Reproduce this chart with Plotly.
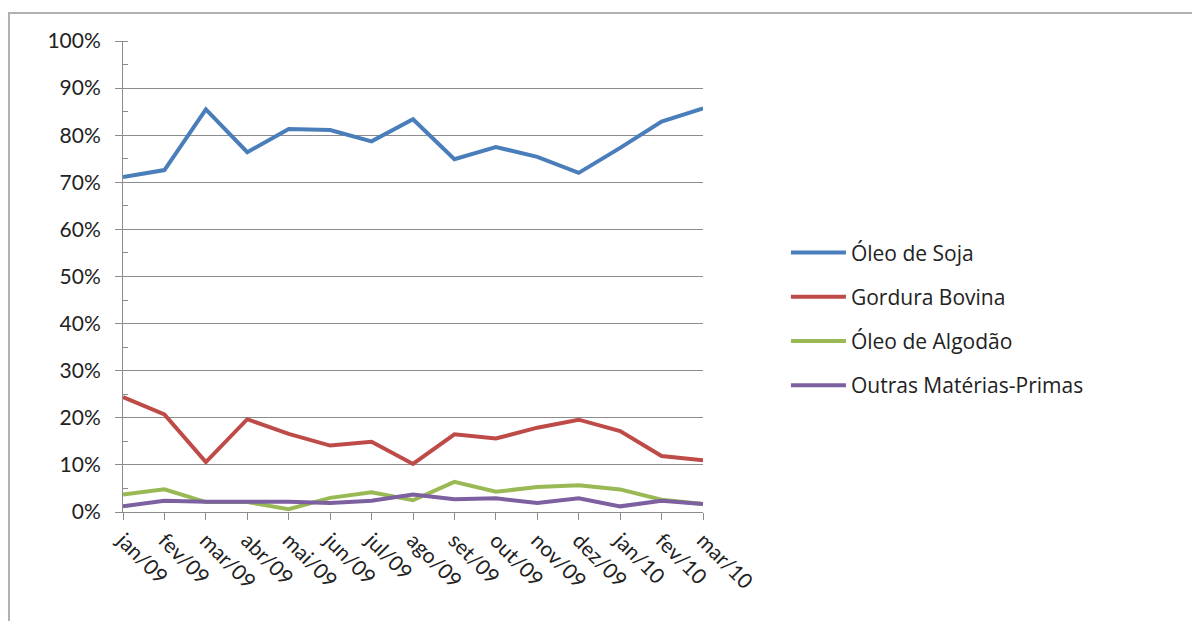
import plotly.graph_objects as go

months = ["jan/09", "fev/09", "mar/09", "abr/09", "mai/09", "jun/09", "jul/09", "ago/09",
          "set/09", "out/09", "nov/09", "dez/09", "jan/10", "fev/10", "mar/10"]

oleo_soja = [71.1, 72.6, 85.5, 76.4, 81.3, 81.1, 78.7, 83.4, 74.9, 77.5, 75.4, 72.0, 77.3, 82.9, 85.7]
gordura_bovina = [24.4, 20.7, 10.6, 19.7, 16.6, 14.1, 14.9, 10.2, 16.5, 15.6, 17.9, 19.6, 17.2, 11.9, 11.0]
oleo_algodao = [3.7, 4.8, 2.1, 2.1, 0.6, 3.0, 4.2, 2.5, 6.4, 4.3, 5.3, 5.7, 4.8, 2.6, 1.7]
outras = [1.2, 2.4, 2.2, 2.2, 2.2, 1.9, 2.4, 3.7, 2.7, 2.9, 1.9, 2.9, 1.2, 2.4, 1.7]

series = [
    ("Óleo de Soja", oleo_soja, "#4a7ebb"),
    ("Gordura Bovina", gordura_bovina, "#be4b48"),
    ("Óleo de Algodão", oleo_algodao, "#98b954"),
    ("Outras Matérias-Primas", outras, "#7d60a0"),
]

fig = go.Figure()
for i, (name, vals, color) in enumerate(series):
    fig.add_trace(go.Scatter(
        x=months, y=[v / 100 for v in vals], name=name, mode="lines",
        line=dict(color=color, width=4), cliponaxis=False,
        legendgroup=f"g{i}",
    ))

font_family = "Lato, 'Open Sans', sans-serif"
fsize = 21

fig.update_layout(
    width=1192, height=621,
    margin=dict(l=123, r=489, t=41, b=109),
    paper_bgcolor="white", plot_bgcolor="white",
    font=dict(family=font_family, size=fsize, color="#222222"),
    showlegend=True,
    legend=dict(x=1.143, y=0.594, xanchor="left", yanchor="top",
                font=dict(family="'Open Sans', sans-serif", size=21, color="#222222"),
                tracegroupgap=14,
                bgcolor="rgba(0,0,0,0)", itemwidth=55),
    shapes=[dict(type="rect", xref="paper", yref="paper",
                 x0=-0.1966, x1=2.0, y0=-0.4, y1=1.0594,
                 line=dict(color="#b0b0b0", width=2), fillcolor="rgba(0,0,0,0)",
                 layer="below")],
)

fig.update_xaxes(
    type="category", range=[0, len(months) - 1],
    showgrid=False, zeroline=False,
    showline=True, linecolor="#8c8c8c", linewidth=1,
    ticks="outside", ticklen=7, tickcolor="#8c8c8c",
    tickangle=45, tickfont=dict(size=fsize, color="#222222"),
)

fig.update_yaxes(
    range=[0, 1], dtick=0.1, tickformat=".0%",
    showgrid=True, gridcolor="#8c8c8c", gridwidth=1,
    zeroline=False,
    showline=True, linecolor="#8c8c8c", linewidth=1,
    ticks="outside", ticklen=7, tickcolor="#8c8c8c",
    ticklabelstandoff=10,
    minor=dict(ticks="inside", ticklen=5, dtick=0.05, tickcolor="#8c8c8c", showgrid=False),
    tickfont=dict(size=fsize, color="#222222"),
)

fig.write_html("out.html")
